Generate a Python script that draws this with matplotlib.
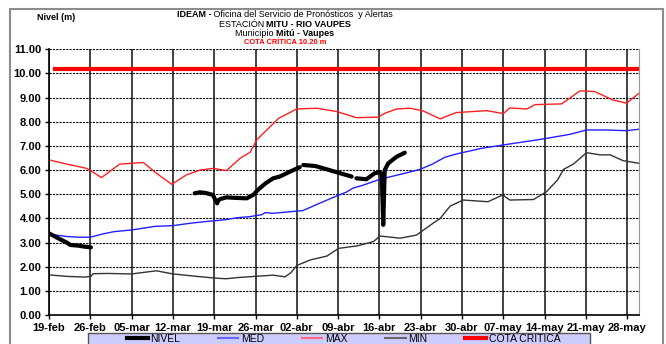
import matplotlib
matplotlib.use("Agg")
import matplotlib.pyplot as plt
import numpy as np
from matplotlib.lines import Line2D
from matplotlib.patches import Rectangle

plt.rcParams['font.family'] = ['Liberation Sans', 'DejaVu Sans']

#---------------------------
# DATA (days counted from 19-feb)
#---------------------------
tick_labels = ["19-feb", "26-feb", "05-mar", "12-mar", "19-mar", "26-mar", "02-abr",
               "09-abr", "16-abr", "23-abr", "30-abr", "07-may", "14-may", "21-may", "28-may"]

# NIVEL - observed level, NaN marks the gaps
nivel_days = [0, 1, 2, 3, 3.6, 5, 6, 7.1, np.nan,
              24.7, 25.6, 26.6, 27.8, 28.3, 28.5, 28.7, 29, 30.1, 31.5, 33.5, 34.6, 35.5,
              36.7, 38.0, 39.1, 40.8, 42.5, np.nan,
              43.1, 45.1, 47.1, 51.3, np.nan,
              52.1, 53.8, 55.2, 56.1, 56.4, 56.65, 56.9, 57.5, 58.9, 60.3]
nivel_vals = [3.38, 3.25, 3.12, 3.0, 2.9, 2.87, 2.83, 2.8, np.nan,
              5.04, 5.08, 5.05, 4.97, 4.7, 4.62, 4.75, 4.8, 4.87, 4.85, 4.83, 4.97, 5.2,
              5.45, 5.66, 5.73, 5.93, 6.12, np.nan,
              6.21, 6.17, 6.03, 5.73, np.nan,
              5.66, 5.62, 5.87, 5.91, 5.8, 3.73, 6.0, 6.28, 6.55, 6.72]

med_days = [0, 3, 5, 7, 9, 11, 14, 18, 21, 24, 27, 28, 30, 32, 34, 36, 36.7, 37.9, 42, 43,
            45.8, 48, 50.5, 51.5, 53.3, 56.1, 60, 62.9, 65, 67.1, 69.1, 73.3, 77, 83.8,
            88.3, 91.1, 94.5, 97.9, 100]
med_vals = [3.35, 3.25, 3.22, 3.22, 3.35, 3.45, 3.52, 3.67, 3.7, 3.8, 3.88, 3.9, 3.95, 4.03,
            4.07, 4.15, 4.24, 4.21, 4.3, 4.32, 4.62, 4.85, 5.1, 5.25, 5.38, 5.62, 5.85, 6.03,
            6.25, 6.53, 6.67, 6.9, 7.04, 7.29, 7.48, 7.66, 7.66, 7.63, 7.69]

max_days = [0, 3, 6.4, 8.9, 12, 14, 16, 18.2, 20.8, 23.3, 25.6, 27.8, 30.1, 32.4, 34.1, 35.2,
            37.5, 38.9, 42, 45.4, 48.8, 52.1, 55.8, 56.9, 58.9, 61.2, 63.4, 66.3, 69, 74.2,
            77, 78.1, 81, 82.4, 86.9, 90, 92.5, 95.6, 97.9, 100]
max_vals = [6.42, 6.25, 6.07, 5.69, 6.25, 6.28, 6.31, 5.87, 5.41, 5.8, 6.0, 6.07, 5.98, 6.49,
            6.74, 7.25, 7.8, 8.14, 8.53, 8.56, 8.42, 8.17, 8.19, 8.35, 8.53, 8.56, 8.45, 8.12,
            8.38, 8.46, 8.34, 8.57, 8.53, 8.71, 8.74, 9.28, 9.25, 8.9, 8.77, 9.18]

min_days = [0, 3, 6, 7.1, 7.5, 10, 14, 18.2, 21, 25, 28, 30, 32, 35, 38, 40, 41, 42, 44.3,
            47.1, 49.1, 52.2, 55, 56.1, 59.5, 62.3, 65.1, 66.3, 68, 70.2, 74.4, 76.9, 78.1,
            82.1, 84.3, 86.2, 87.2, 88.9, 91.1, 93.4, 95.1, 97.3, 100]
min_vals = [1.66, 1.6, 1.57, 1.6, 1.71, 1.72, 1.7, 1.83, 1.7, 1.6, 1.53, 1.5, 1.55, 1.6, 1.65,
            1.58, 1.75, 2.05, 2.28, 2.44, 2.76, 2.86, 3.04, 3.27, 3.18, 3.31, 3.8, 4.0, 4.51,
            4.76, 4.69, 4.97, 4.76, 4.78, 5.1, 5.59, 6.03, 6.25, 6.72, 6.63, 6.63, 6.39, 6.28]

cota_days = [1, 100]
cota_vals = [10.2, 10.2]

W, H = 666, 344
fig = plt.figure(figsize=(W / 100, H / 100), dpi=100)

# outer frame of the report
fig.patches.append(Rectangle((10 / W, -0.05), 653 / W, 1.05 - 9.5 / H, transform=fig.transFigure,
                             fill=False, edgecolor='#8c8c8c', linewidth=1.5))

ax = fig.add_axes([49 / W, 1 - 315 / H, 590 / W, 265.7 / H])
ax.set_xlim(0, 100)
ax.set_ylim(0, 11)

ax.set_xticks(np.arange(len(tick_labels)) * 7)
ax.set_xticklabels(tick_labels)
ax.set_yticks(np.arange(0, 12))
ax.set_yticklabels([f"{v:.2f}" for v in range(0, 12)])
ax.tick_params(axis='both', labelsize=8, length=3, width=1, pad=2.5, direction='out')
for lbl in ax.get_xticklabels() + ax.get_yticklabels():
    lbl.set_fontweight('bold')

ax.grid(axis='y', color='black', linestyle=(0, (2, 1)), linewidth=0.8)
ax.grid(axis='x', color='#222222', linestyle='-', linewidth=1.2)
ax.set_axisbelow(True)
ax.spines['top'].set_visible(False)
ax.spines['right'].set_color('#999999')
ax.spines['left'].set_linewidth(1.2)
ax.spines['bottom'].set_linewidth(1.2)

ax.plot(min_days, min_vals, color='#333333', linewidth=1.0)
ax.plot(max_days, max_vals, color='#ff2020', linewidth=1.0)
ax.plot(med_days, med_vals, color='#2020ff', linewidth=1.0)
ax.plot(nivel_days, nivel_vals, color='black', linewidth=3.0, solid_capstyle='round')
ax.plot(cota_days, cota_vals, color='#ff0000', linewidth=3.0)

# legend strip at the bottom: lavender box, entries centred in it
fig.patches.append(Rectangle((88 / W, -0.05), 502 / W, 0.05 + 1 - 333 / H, transform=fig.transFigure,
                             facecolor='#ccccff', edgecolor='#555555', linewidth=1.0))
handles = [Line2D([], [], color='black', linewidth=3),
           Line2D([], [], color='#6666ff', linewidth=1.5),
           Line2D([], [], color='#ff6680', linewidth=1.5),
           Line2D([], [], color='#666666', linewidth=1.5),
           Line2D([], [], color='#ff0000', linewidth=3)]
leg = fig.legend(handles, ["NIVEL", "MED", "MAX", "MIN", "COTA CRITICA"], ncol=5,
                 loc='center', bbox_to_anchor=(343.5 / W, 1 - 339 / H),
                 fontsize=7.5, frameon=False, handlelength=2.0, handletextpad=0.25,
                 columnspacing=3.6, borderpad=0, borderaxespad=0)

fig.text(37 / W, 1 - 18 / H, "Nivel (m)", fontsize=6.5, fontweight='bold', va='center')

# title lines, mixed bold / normal parts centred on x=285 px
title_lines = [
    ([("IDEAM -", 'bold'), (" Oficina del Servicio de Pronósticos  y Alertas", 'normal')], 14.5, 6.5, 'black'),
    ([("ESTACIÓN ", 'normal'), ("MITU - RIO VAUPES", 'bold')], 24.5, 6.5, 'black'),
    ([("Municipio ", 'normal'), ("Mitú - Vaupes", 'bold')], 34, 6.5, 'black'),
    ([("COTA CRÍTICA 10.20 m", 'bold')], 43, 5.4, '#ff0000'),
]
renderer = fig.canvas.get_renderer()
for parts, ypx, size, col in title_lines:
    texts = [fig.text(0, 1 - ypx / H, s, fontsize=size, fontweight=w, color=col, va='center')
             for s, w in parts]
    widths = [t.get_window_extent(renderer).width for t in texts]
    x = 285 - sum(widths) / 2
    for t, wd in zip(texts, widths):
        t.set_x(x / W)
        x += wd

fig.savefig("out.png", dpi=100)
